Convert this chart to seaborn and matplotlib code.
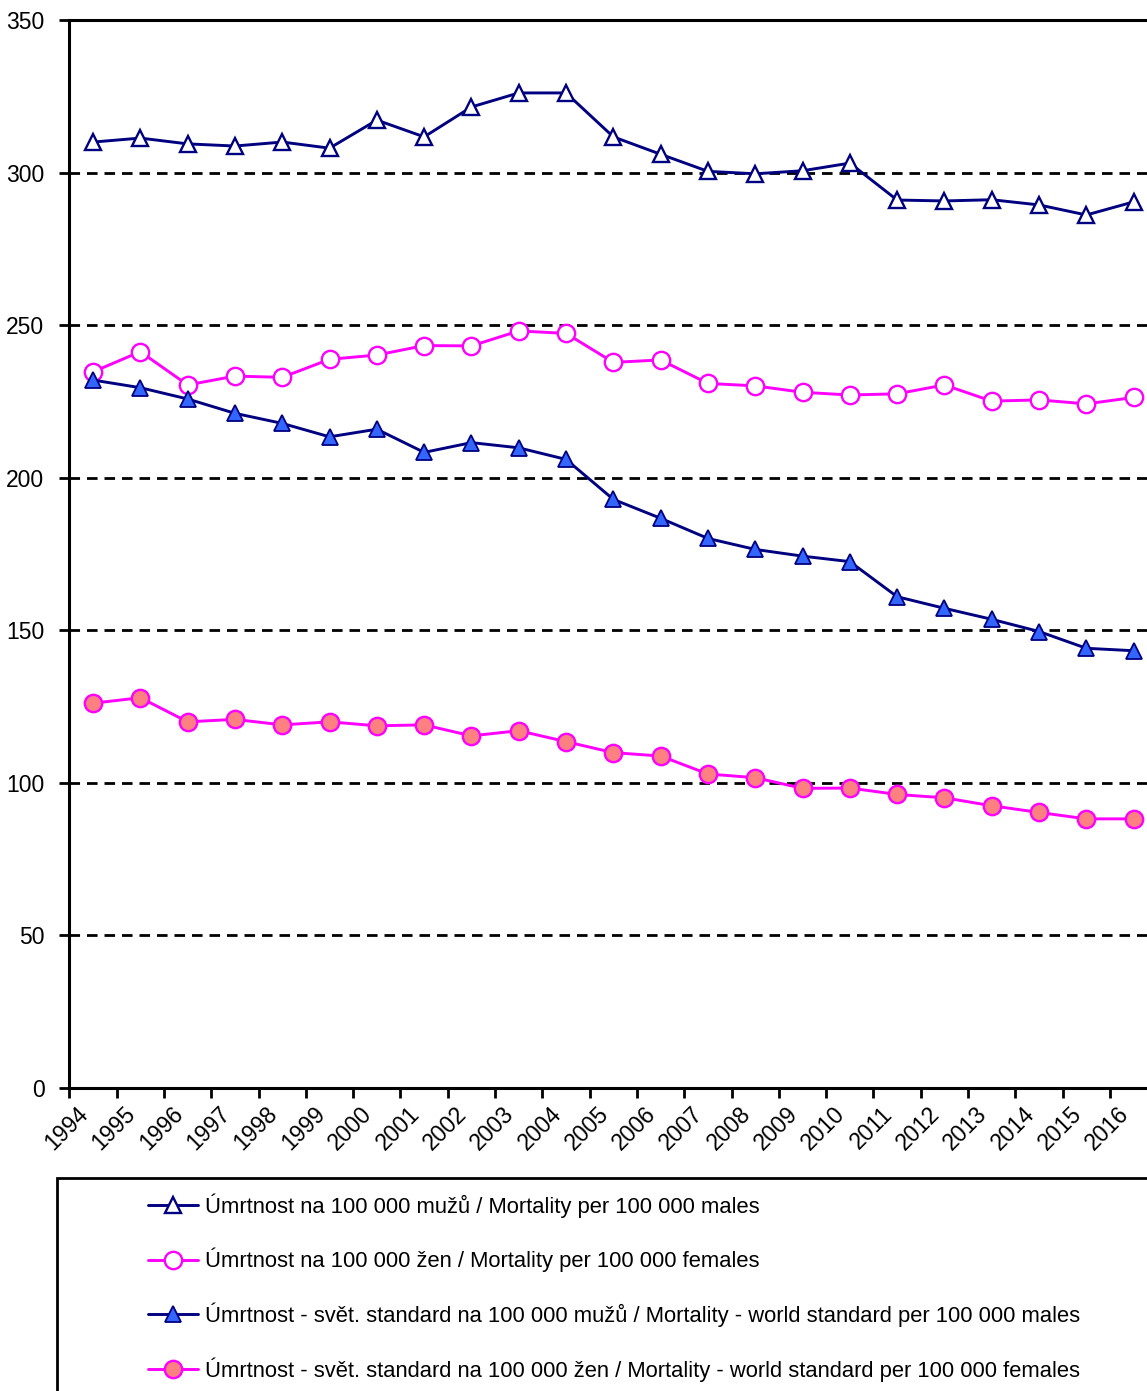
import matplotlib
matplotlib.use("Agg")
import matplotlib.pyplot as plt
import matplotlib.transforms as mtransforms
from matplotlib.patches import Rectangle
from matplotlib.ticker import FixedLocator
import seaborn as sns

sns.set_style("white")
plt.rcParams["font.family"] = ["Liberation Sans", "DejaVu Sans"]
plt.rcParams["text.color"] = "black"
plt.rcParams["xtick.color"] = "black"
plt.rcParams["ytick.color"] = "black"

# ==================================================
# DATA
# ==================================================

years = list(range(1994, 2017))

males_crude = [310.0, 311.3, 309.4, 308.7, 310.0, 308.0, 317.2, 311.7, 321.5, 326.1,
               326.1, 311.7, 306.0, 300.4, 299.6, 300.6, 303.1, 291.0, 290.7, 291.1,
               289.4, 286.1, 290.4]

females_crude = [234.7, 241.3, 230.4, 233.3, 232.9, 238.8, 240.2, 243.3, 243.2, 248.1,
                 247.3, 237.8, 238.6, 230.9, 230.1, 228.0, 227.1, 227.5, 230.4, 225.1,
                 225.5, 224.2, 226.3]

males_world = [232.0, 229.5, 225.8, 221.1, 217.8, 213.4, 215.9, 208.3, 211.5, 209.8,
               206.0, 192.9, 186.7, 180.1, 176.5, 174.3, 172.5, 161.0, 157.2, 153.6,
               149.6, 144.1, 143.3]

females_world = [126.1, 127.9, 120.0, 120.8, 119.0, 120.0, 118.7, 119.0, 115.4, 117.1,
                 113.5, 109.9, 108.8, 102.9, 101.7, 98.2, 98.3, 96.2, 95.1, 92.5,
                 90.3, 88.2, 88.2]

labels = [
    "Úmrtnost na 100 000 mužů / Mortality per 100 000 males",
    "Úmrtnost na 100 000 žen / Mortality per 100 000 females",
    "Úmrtnost - svět. standard na 100 000 mužů / Mortality - world standard per 100 000 males",
    "Úmrtnost - svět. standard na 100 000 žen / Mortality - world standard per 100 000 females",
]

# ==================================================
# FIGURE
# ==================================================

W, H = 1147, 1391
fig = plt.figure(figsize=(W / 100, H / 100), dpi=100)

left_px, right_px = 69.4, 1157.3
top_px, bottom_px = 20, 1088
ax = fig.add_axes([left_px / W, (H - bottom_px) / H,
                   (right_px - left_px) / W, (bottom_px - top_px) / H])

navy = "#000080"
magenta = "#FF00FF"

sns.lineplot(x=years, y=males_crude, ax=ax, color=navy, lw=2.1,
             marker="^", markersize=12, markerfacecolor="white",
             markeredgecolor=navy, markeredgewidth=1.7, label=labels[0])
sns.lineplot(x=years, y=females_crude, ax=ax, color=magenta, lw=2.1,
             marker="o", markersize=12.5, markerfacecolor="white",
             markeredgecolor=magenta, markeredgewidth=1.7, label=labels[1])
sns.lineplot(x=years, y=males_world, ax=ax, color=navy, lw=2.1,
             marker="^", markersize=12, markerfacecolor="#3366FF",
             markeredgecolor=navy, markeredgewidth=1.3, label=labels[2])
sns.lineplot(x=years, y=females_world, ax=ax, color=magenta, lw=2.1,
             marker="o", markersize=12.5, markerfacecolor="#FF8080",
             markeredgecolor=magenta, markeredgewidth=1.7, label=labels[3])

ax.set_xlim(1993.5, 2016.5)
ax.set_ylim(0, 350)

# dashed gridlines
for yv in range(50, 350, 50):
    ax.axhline(yv, color="black", lw=2, ls=(0, (3.8, 2.5)), zorder=0)

ax.set_yticks(range(0, 351, 50))
ax.tick_params(axis="y", direction="out", length=7, width=2,
               labelsize=16.5, pad=11, left=True)

ax.set_xticks(years)
ax.xaxis.set_minor_locator(FixedLocator([y - 0.5 for y in years] + [2016.5]))
ax.tick_params(axis="x", which="major", length=0, pad=16)
ax.tick_params(axis="x", which="minor", direction="out", length=7,
               width=2, bottom=True)
ax.set_xticklabels([str(y) for y in years], rotation=45, ha="right",
                   va="center", rotation_mode="anchor", fontsize=16.5)
offset = mtransforms.ScaledTranslation(-6 / 72, 0, fig.dpi_scale_trans)
for lbl in ax.get_xticklabels():
    lbl.set_transform(lbl.get_transform() + offset)

for side in ["left", "bottom", "top"]:
    ax.spines[side].set_visible(True)
    ax.spines[side].set_color("black")
    ax.spines[side].set_linewidth(2.2)
ax.spines["right"].set_visible(False)

ax.set_xlabel("")
ax.set_ylabel("")

# ==================================================
# LEGEND
# ==================================================

handles, lbls = ax.get_legend_handles_labels()
ax.get_legend().remove()

fig.patches.append(Rectangle((57 / W, -0.01), 1.0, (H - 1177.5) / H + 0.01,
                             transform=fig.transFigure, fill=False,
                             edgecolor="black", lw=2))

fig.legend(handles, lbls, loc="upper left",
           bbox_to_anchor=(148 / W, (H - 1193) / H),
           frameon=False, fontsize=15.8, borderpad=0, borderaxespad=0,
           handlelength=2.3, handletextpad=0.3, labelspacing=1.38,
           numpoints=1)

fig.savefig("out.png", dpi=100)
